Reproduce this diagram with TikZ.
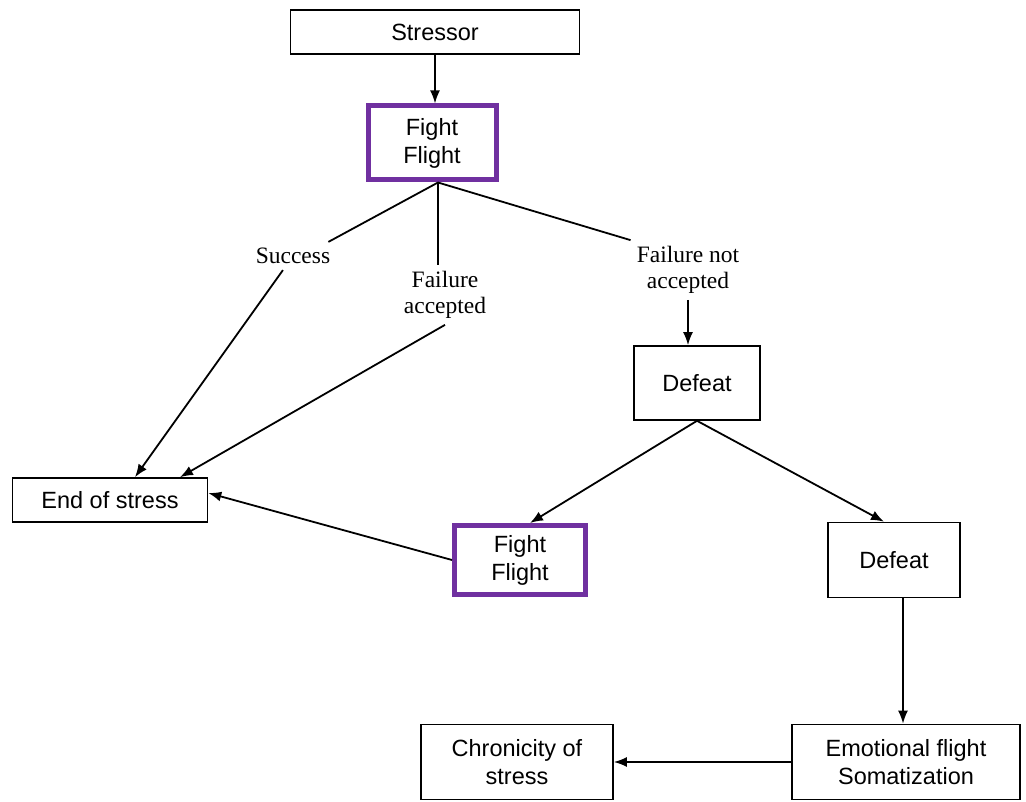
\documentclass[tikz,border=0pt]{standalone}
\usepackage{fontspec}
\setmainfont{Liberation Serif}
\newfontfamily\boxfont{Liberation Sans}
\usetikzlibrary{arrows.meta}
\definecolor{ffpurple}{RGB}{112,48,160}
\tikzset{
    every node/.style={align=center,},
    stage/.style={draw,rectangle,line width=1.6pt,inner sep=0pt,font=\boxfont\fontsize{23.5}{28}\selectfont,},
    fightbox/.style={stage,draw=ffpurple,line width=5pt,},
    outcome/.style={inner sep=6pt,font=\fontsize{23.5}{26}\selectfont,},
    link/.style={line width=1.8pt,},
    arrow/.style={link,-{Latex[length=13pt,width=10pt]},},
}

\begin{document}
\begin{tikzpicture}[x=1pt,y=-1pt]
        \useasboundingbox (0,0) rectangle (1026,802);

        \node[stage,minimum width=289pt,minimum height=44pt] (stressor) at (435,32) {Stressor};
        \node[fightbox,minimum width=128pt,minimum height=74pt] (fight) at (432,143) {Fight\\Flight};

        \node[outcome] (success) at (293,256) {Success};
        \node[outcome] (failacc) at (445,295) {Failure\\accepted};
        \node[outcome] (failnot) at (688,270) {Failure not\\accepted};

        \node[stage,minimum width=195pt,minimum height=44pt] (endst) at (110,500) {End of stress};
        \node[stage,minimum width=126pt,minimum height=74pt] (defeat1) at (697,383) {Defeat};
        \node[fightbox,minimum width=131pt,minimum height=69pt] (fight2) at (520,560) {Fight\\Flight};
        \node[stage,minimum width=132pt,minimum height=75pt] (defeat2) at (894,560) {Defeat};

        \node[stage,minimum width=228pt,minimum height=75pt] (emotional) at (906,762) {Emotional flight\\Somatization};
        \node[stage,minimum width=192pt,minimum height=75pt] (chronic) at (517,762) {Chronicity of\\stress};

        \draw[arrow] (stressor.south) to (stressor.south |- fight.north);

        \draw[link] ([xshift=6pt]fight.south) to ([xshift=-8pt]success.north east);
        \draw[link] ([xshift=6pt]fight.south) to ([xshift=6pt]fight.south |- failacc.north);
        \draw[link] ([xshift=6pt]fight.south) to (failnot.north west);

        \draw[arrow] (success) to ([xshift=25pt]endst.north);
        \draw[arrow] (failacc.south) to ([xshift=70pt]endst.north);
        \draw[arrow] (failnot.south) to (failnot.south |- defeat1.north);

        \draw[arrow] (defeat1.south) to ([xshift=10pt]fight2.north);
        \draw[arrow] (defeat1.south) to ([xshift=-10pt]defeat2.north);

        \draw[arrow] (fight2.west) to ([yshift=7pt]endst.east);

        \draw[arrow] ([xshift=-3pt]emotional.north |- defeat2.south) to ([xshift=-3pt]emotional.north);
        \draw[arrow] (emotional.west) to (chronic.east);
    \end{tikzpicture}
\end{document}
